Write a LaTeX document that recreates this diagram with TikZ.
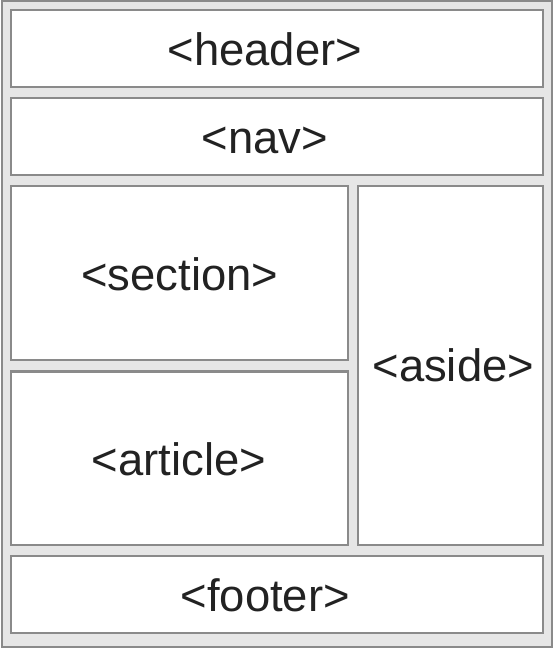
\documentclass[tikz,border=0pt]{standalone}
\usepackage{fontspec}
\setmainfont{Liberation Sans}
\usetikzlibrary{fit}
\definecolor{boxline}{HTML}{8A8A8A}
\definecolor{gapfill}{HTML}{E6E6E6}
\definecolor{tagtext}{HTML}{222222}
\begin{document}
\begin{tikzpicture}[x=1.007pt,y=-1pt,
		block/.style={draw=boxline,line width=2.2pt,fill=white,inner sep=0pt},
		tag/.style={anchor=base,inner sep=0pt,text=tagtext,font=\fontsize{45}{50}\selectfont}]
	\useasboundingbox (0,0) rectangle (547,642);
	\draw[draw=boxline,line width=2.4pt,fill=gapfill] (2.2,1.2) rectangle (542.8,640.8);
	% boxes
	\node[block,fit={(11,10) (534,86)}] (headerbox) {};
	\node[block,fit={(11,97) (534,173)}] (navbox) {};
	\node[block,fit={(11,184) (342,357)}] (sectionbox) {};
	\node[block,fit={(11,368) (342,540)}] (articlebox) {};
	\node[block,fit={(352,184) (534,540)}] (asidebox) {};
	\node[block,fit={(11,551) (534,627)}] (footerbox) {};
	% tags
	\node[tag] (header) at (260.5,65) {<header>};
	\node[tag] (nav) at (260.5,152) {<nav>};
	\node[tag] (section) at (177,287.5) {<section>};
	\node[tag] (article) at (176,471) {<article>};
	\node[tag] (aside) at (446,377.5) {<aside>};
	\node[tag] (footer) at (261,606) {<footer>};
\end{tikzpicture}
\end{document}
